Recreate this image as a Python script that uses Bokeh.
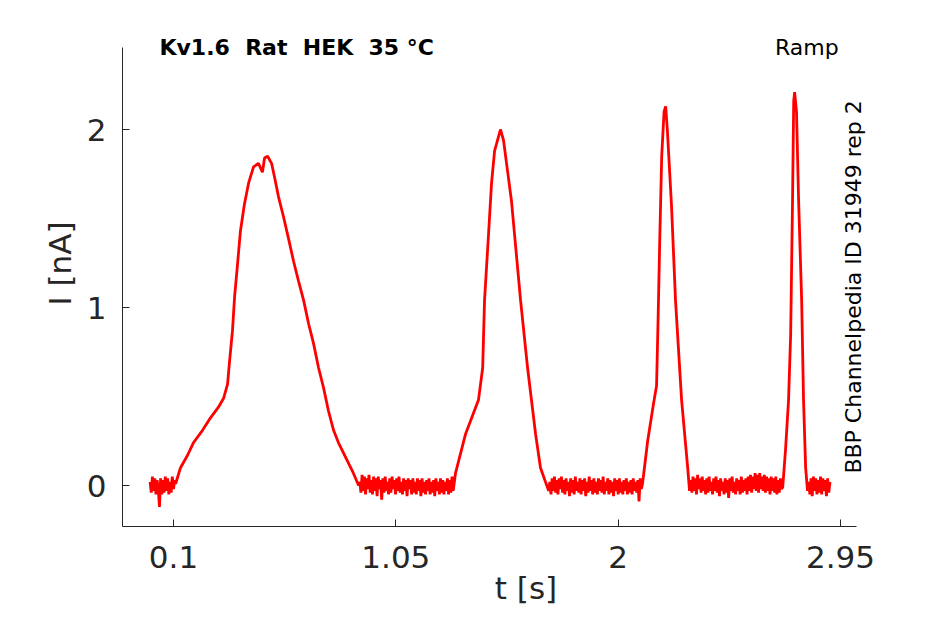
import numpy as np
from bokeh.plotting import figure
from bokeh.models import FixedTicker, NumeralTickFormatter, Label
from bokeh.embed import file_html
from bokeh.resources import INLINE

# ---------------- data ----------------
# baseline (noise) segments: start time, end time, current samples [nA]
B0_span = (0.0, 0.105)
B0_I = [0.02, -0.04, 0.05, -0.03, 0.04, -0.05, 0.03, -0.02, -0.12, 0.04, -0.05,
        0.03, -0.04, 0.05, -0.03, 0.04, -0.05, 0.02, -0.04, 0.05, -0.02, 0.03]

B1_span = (0.896, 1.300)
B1_I = [0.02, -0.04, 0.06, -0.03, 0.05, -0.05, 0.04, -0.02, 0.06, -0.04,
        0.03, -0.05, 0.05, -0.03, 0.04, -0.06, 0.05, -0.02, 0.03, -0.08,
        0.04, -0.04, 0.05, -0.03, 0.02, -0.05, 0.04, -0.04, 0.05, -0.02,
        0.03, -0.05, 0.04, -0.03, 0.05, -0.04, 0.02, -0.05, 0.04, -0.03,
        0.03, -0.06, 0.04, -0.02, 0.03, -0.05, 0.04, -0.04, 0.02, -0.05,
        0.04, -0.03, 0.03, -0.06, 0.04, -0.04, 0.02, -0.05, 0.03, -0.03,
        0.04, -0.05, 0.02, -0.04, 0.03, -0.06, 0.04, -0.03, 0.02, -0.05,
        0.04, -0.04, 0.03, -0.05, 0.02, -0.03, 0.04, -0.05, 0.03, -0.04,
        0.05, -0.03, 0.02]

B2_span = (1.708, 2.099)
B2_I = [0.02, -0.05, 0.04, -0.03, 0.05, -0.04, 0.03, -0.05, 0.04, -0.02,
        0.05, -0.04, 0.03, -0.05, 0.04, -0.03, 0.02, -0.06, 0.04, -0.04,
        0.03, -0.05, 0.05, -0.03, 0.02, -0.04, 0.04, -0.05, 0.03, -0.03,
        0.04, -0.06, 0.02, -0.04, 0.05, -0.03, 0.03, -0.05, 0.04, -0.04,
        0.02, -0.05, 0.04, -0.03, 0.03, -0.04, 0.05, -0.05, 0.02, -0.03,
        0.04, -0.05, 0.03, -0.04, 0.02, -0.06, 0.04, -0.03, 0.03, -0.05,
        0.04, -0.04, 0.02, -0.05, 0.03, -0.03, 0.04, -0.05, 0.02, -0.04,
        0.03, -0.05, 0.04, -0.03, 0.02, -0.04, 0.03, -0.09, 0.04, -0.02]

B3_span = (2.310, 2.698)
B3_I = [0.03, -0.04, 0.05, -0.03, 0.04, -0.05, 0.06, -0.02, 0.04, -0.04,
        0.05, -0.03, 0.03, -0.05, 0.04, -0.04, 0.05, -0.03, 0.02, -0.05,
        0.04, -0.03, 0.05, -0.04, 0.03, -0.06, 0.04, -0.03, 0.02, -0.05,
        0.04, -0.04, 0.03, -0.07, 0.04, -0.03, 0.05, -0.04, 0.02, -0.05,
        0.04, -0.03, 0.03, -0.05, 0.05, -0.04, 0.03, -0.03, 0.04, -0.05,
        0.05, -0.03, 0.06, -0.04, 0.05, -0.02, 0.07, -0.03, 0.06, -0.04,
        0.07, -0.02, 0.05, -0.03, 0.06, -0.04, 0.05, -0.03, 0.04, -0.05,
        0.05, -0.03, 0.04, -0.04, 0.05, -0.05, 0.03, -0.04, 0.04, -0.02]

B4_span = (2.814, 2.905)
B4_I = [0.02, -0.05, 0.04, -0.06, 0.05, -0.03, 0.04, -0.05, 0.03, -0.04,
        0.05, -0.05, 0.04, -0.03, 0.03, -0.06, 0.04, -0.04, 0.02]

# ramp-evoked current peaks
P1_t = [0.109, 0.130, 0.160, 0.185, 0.224, 0.258, 0.292, 0.314, 0.331, 0.339,
        0.352, 0.361, 0.374, 0.386, 0.403, 0.421, 0.442, 0.463, 0.480, 0.489,
        0.502, 0.519, 0.532, 0.549, 0.570, 0.591, 0.613, 0.634, 0.656, 0.677,
        0.698, 0.720, 0.741, 0.762, 0.784, 0.805, 0.835, 0.865, 0.891]
P1_I = [0.01, 0.10, 0.17, 0.24, 0.31, 0.38, 0.44, 0.49, 0.57, 0.69,
        0.87, 1.06, 1.25, 1.43, 1.58, 1.70, 1.79, 1.81, 1.76, 1.84,
        1.85, 1.81, 1.73, 1.62, 1.51, 1.39, 1.26, 1.15, 1.04, 0.91,
        0.80, 0.66, 0.55, 0.42, 0.31, 0.24, 0.16, 0.08, 0.00]

P2_t = [1.305, 1.348, 1.403, 1.421, 1.429, 1.446, 1.459, 1.472, 1.497, 1.510,
        1.544, 1.583, 1.613, 1.647, 1.668, 1.703]
P2_I = [0.07, 0.29, 0.48, 0.66, 1.04, 1.41, 1.70, 1.88, 2.00, 1.94,
        1.60, 1.04, 0.66, 0.29, 0.10, -0.03]

P3_t = [2.104, 2.126, 2.151, 2.164, 2.170, 2.178, 2.186, 2.196, 2.203, 2.210,
        2.228, 2.245, 2.271, 2.297, 2.305]
P3_I = [0.01, 0.25, 0.46, 0.56, 0.90, 1.40, 1.85, 2.10, 2.13, 2.00,
        1.57, 1.04, 0.48, 0.10, -0.03]

P4_t = [2.703, 2.715, 2.728, 2.737, 2.745, 2.750, 2.754, 2.762, 2.771, 2.784,
        2.792, 2.801, 2.809]
P4_I = [-0.01, 0.20, 0.48, 0.85, 1.60, 2.16, 2.21, 2.10, 1.60, 1.04,
        0.48, 0.10, -0.03]

x_ticks = [0.1, 1.05, 2, 2.95]
y_ticks = [0, 1, 2]

title_text = "Kv1.6\u00a0 Rat\u00a0 HEK\u00a0 35 \u00b0C"
protocol_text = "Ramp"
source_text = "BBP Channelpedia ID 31949 rep 2"

# ---------------- assemble trace ----------------
def seg(span, vals):
    return list(np.linspace(span[0], span[1], len(vals))), list(vals)

t_all, I_all = [], []
for part in [seg(B0_span, B0_I), (P1_t, P1_I), seg(B1_span, B1_I), (P2_t, P2_I),
             seg(B2_span, B2_I), (P3_t, P3_I), seg(B3_span, B3_I), (P4_t, P4_I),
             seg(B4_span, B4_I)]:
    t_all += list(part[0])
    I_all += list(part[1])

# ---------------- figure ----------------
AX = "#262626"
FONT = "DejaVu Sans"

W, H = 929, 608
LEFT, BOTTOM = 122, 82          # frame borders (px); frame reaches top/right edges
X_PX = 234.04                   # px per second
Y_PX = 178.0                    # px per nA
x0 = -0.1179                    # time at left spine
x_spine_end = 3.0183            # time at end of bottom spine
y0 = -0.2303                    # current at bottom spine
y_spine_end = 2.4607            # current at top of left spine
x1 = x0 + (W - LEFT) / X_PX
y1 = y0 + (H - BOTTOM) / Y_PX

p = figure(width=W, height=H, x_range=(x0, x1), y_range=(y0, y1), title=None,
           output_backend="svg", toolbar_location=None,
           min_border_left=LEFT, min_border_right=0, min_border_top=0,
           min_border_bottom=BOTTOM)
p.background_fill_color = "white"
p.border_fill_color = "white"
p.outline_line_color = None
p.grid.visible = False

p.line(t_all, I_all, line_color="#ff0000", line_width=2.8)

for ax in (p.xaxis[0], p.yaxis[0]):
    ax.axis_line_color = AX
    ax.axis_line_width = 1
    ax.major_tick_line_color = AX
    ax.major_tick_in = 7
    ax.major_tick_out = 0
    ax.minor_tick_line_color = None
    ax.major_label_text_color = AX
    ax.major_label_text_font = FONT
    ax.major_label_text_font_size = "31px"
    ax.axis_label_text_font = FONT
    ax.axis_label_text_font_style = "normal"
    ax.axis_label_text_color = AX
    ax.axis_label_text_font_size = "31px"

p.xaxis.ticker = FixedTicker(ticks=x_ticks)
p.xaxis.formatter = NumeralTickFormatter(format="0.[00]")
p.xaxis.bounds = (x0, x_spine_end)
p.xaxis.major_label_standoff = 19
p.xaxis.axis_label = "t [s]"
p.xaxis.axis_label_standoff = -1

p.yaxis.ticker = FixedTicker(ticks=y_ticks)
p.yaxis.bounds = (y0, y_spine_end)
p.yaxis.major_label_standoff = 16
p.yaxis.axis_label = "I [nA]"
p.yaxis.axis_label_standoff = 6

p.add_layout(Label(x=0.040, y=y_spine_end, text=title_text, text_align="left",
                   text_baseline="alphabetic", text_font=FONT, text_font_size="22px",
                   text_font_style="bold", text_color="black"))
p.add_layout(Label(x=2.942, y=y_spine_end, text=protocol_text, text_align="right",
                   text_baseline="alphabetic", text_font=FONT, text_font_size="22px",
                   text_color="black"))
p.add_layout(Label(x=3.006, y=0.067, text=source_text, text_align="left",
                   text_baseline="alphabetic", angle=np.pi / 2, text_font=FONT,
                   text_font_size="22px", text_color="black"))

open("out.html", "w").write(file_html(p, INLINE))
